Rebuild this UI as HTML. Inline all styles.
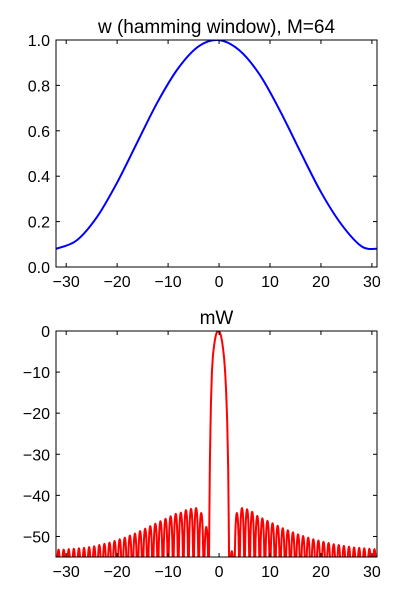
<!DOCTYPE html>
<html><head><meta charset="utf-8"><style>
html,body{margin:0;padding:0;background:#fff;}
svg text{font-family:"Liberation Sans",sans-serif;}
</style></head><body>
<svg id="fig" width="400" height="600" xmlns="http://www.w3.org/2000/svg">
<defs>
<clipPath id="clipTop"><rect x="56" y="40" width="321" height="227"/></clipPath>
<clipPath id="clipBot"><rect x="56" y="331" width="321" height="226"/></clipPath>
</defs>
<g id="top"></g>
<g id="bot"></g>
</svg>
<script>
// ---- top chart data ----
const winN = [-32,-28,-24,-20,-16,-12,-8,-4,0,4,8,12,16,20,24,28,31];
const winW = [0.08,0.1161,0.2188,0.372,0.5515,0.7293,0.8761,0.9723,0.9994,0.9542,0.8464,0.6865,0.5056,0.3301,0.1881,0.0904,0.08];
const topYTicks = [0.0,0.2,0.4,0.6,0.8,1.0];
const topYLabels = ["0.0","0.2","0.4","0.6","0.8","1.0"];
const xTicks = [-30,-20,-10,0,10,20,30];
const xLabels = ["\u221230","\u221220","\u221210","0","10","20","30"];
// ---- bottom chart data ----
const lobeCentersL = [-31.5,-30.5,-29.5,-28.5,-27.5,-26.5,-25.5,-24.5,-23.5,-22.5,-21.5,-20.5,-19.5,-18.5,-17.5,-16.5,-15.5,-14.5,-13.5,-12.5,-11.5,-10.5,-9.5,-8.5,-7.5,-6.5,-5.5,-4.5,-3.5,-2.5];
const lobePeaksL = [-53.2,-53.2,-53.1,-53.0,-52.9,-52.8,-52.6,-52.4,-52.1,-51.8,-51.5,-51.1,-50.7,-50.3,-49.8,-49.3,-48.7,-48.1,-47.5,-46.9,-46.3,-45.7,-45.1,-44.5,-44.2,-43.6,-43.3,-43.1,-44.3,-47.7];
const lobeCentersR = [2.5,3.5,4.5,5.5,6.5,7.5,8.5,9.5,10.5,11.5,12.5,13.5,14.5,15.5,16.5,17.5,18.5,19.5,20.5,21.5,22.5,23.5,24.5,25.5,26.5,27.5,28.5,29.5,30.5];
const lobePeaksR = [-53.6,-44.3,-43.1,-43.4,-44.0,-45.0,-45.6,-46.2,-46.8,-47.4,-48.0,-48.5,-49.0,-49.5,-49.9,-50.3,-50.7,-51.0,-51.3,-51.6,-51.9,-52.1,-52.3,-52.5,-52.7,-52.8,-52.9,-53.0,-53.1];
const mainX = [-2,-1.9,-1.8,-1.6,-1.4,-1.2,-1,-0.8,-0.6,-0.4,-0.2,0,0.2,0.4,0.6,0.8,1,1.2,1.4,1.6,1.8,1.9,2];
const mainV = [-60,-45,-32,-18,-10,-6,-3.8,-2.1,-0.9,-0.25,0,-0.1,-0.5,-1.3,-2.6,-4.4,-6.7,-10,-15,-22,-34,-46,-60];
const botYTicks = [0,-10,-20,-30,-40,-50];
const botYLabels = ["0","\u221210","\u221220","\u221230","\u221240","\u221250"];

const NS="http://www.w3.org/2000/svg";
const X0=56,X1=377;
function sx(v){return X0+(v+32)*(X1-X0)/63;}
function syTop(v){return 267-v*227;}
function syBot(v){return 331-v*(226/55);}
function mk(tag,attrs,parent){const e=document.createElementNS(NS,tag);for(const k in attrs)e.setAttribute(k,attrs[k]);parent.appendChild(e);return e;}

function axes(g,yT,yL,sy,top,bottom,title,nameP){
  for(let i=0;i<xTicks.length;i++){
    const x=sx(xTicks[i]);
    const t1=mk('line',{x1:x,x2:x,y1:bottom,y2:bottom-4,stroke:'#000'},g);
    
    
    const t2=mk('line',{x1:x,x2:x,y1:top,y2:top+4,stroke:'#000'},g);
    
    
    const tx=mk('text',{x:x,y:bottom+20,'font-size':16,'text-anchor':'middle'},g);
    tx.textContent=xLabels[i];
    
    
  }
  for(let i=0;i<yT.length;i++){
    const y=sy(yT[i]);
    const t1=mk('line',{x1:X0,x2:X0+4,y1:y,y2:y,stroke:'#000'},g);
    
    
    const t2=mk('line',{x1:X1,x2:X1-4,y1:y,y2:y,stroke:'#000'},g);
    
    
    const tx=mk('text',{x:X0-6,y:y+6,'font-size':16,'text-anchor':'end'},g);
    tx.textContent=yL[i];
    
    
  }
  const fr=mk('rect',{x:X0,y:top,width:X1-X0,height:bottom-top,fill:'none',stroke:'#000','stroke-width':1},g);
  
  
  const tt=mk('text',{x:(X0+X1)/2,y:top-7,'font-size':19,'text-anchor':'middle'},g);
  tt.textContent=title;
  
  
}

// top chart
const gT=document.getElementById('top');
(function(){
  const p=winN.map((n,i)=>[sx(n),syTop(winW[i])]);
  let d='M'+p[0][0]+','+p[0][1];
  for(let i=0;i<p.length-1;i++){
    const p0=p[Math.max(0,i-1)],p1=p[i],p2=p[i+1],p3=p[Math.min(p.length-1,i+2)];
    const c1=[p1[0]+(p2[0]-p0[0])/6,p1[1]+(p2[1]-p0[1])/6];
    const c2=[p2[0]-(p3[0]-p1[0])/6,p2[1]-(p3[1]-p1[1])/6];
    d+=' C'+c1[0]+','+c1[1]+' '+c2[0]+','+c2[1]+' '+p2[0]+','+p2[1];
  }
  const path=mk('path',{d:d,fill:'none',stroke:'#0000ff','stroke-width':2,'clip-path':'url(#clipTop)'},gT);
  
  
})();
axes(gT,topYTicks,topYLabels,syTop,40,267,'w (hamming window), M=64','top');

// bottom chart
const gB=document.getElementById('bot');
(function(){
  function lobe(c,pk){
    const pts=[];
    for(let k=0;k<=12;k++){
      const x=c-0.49+0.98*k/12;
      let v=pk+20*Math.log10(Math.max(1e-4,Math.abs(Math.cos(Math.PI*(x-c)))));
      pts.push([sx(x),syBot(Math.max(v,-60))]);
    }
    return pts;
  }
  const all=[];
  lobeCentersL.forEach((c,i)=>all.push(...lobe(c,lobePeaksL[i])));
  mainX.forEach((x,i)=>all.push([sx(x),syBot(mainV[i])]));
  lobeCentersR.forEach((c,i)=>all.push(...lobe(c,lobePeaksR[i])));
  const d='M'+all.map(p=>p[0].toFixed(2)+','+p[1].toFixed(2)).join(' L');
  const path=mk('path',{d:d,fill:'none',stroke:'#ff0000','stroke-width':2,'stroke-linejoin':'round','clip-path':'url(#clipBot)'},gB);
  
  
})();
axes(gB,botYTicks,botYLabels,syBot,331,557,'mW','bottom');
</script>
</body></html>
